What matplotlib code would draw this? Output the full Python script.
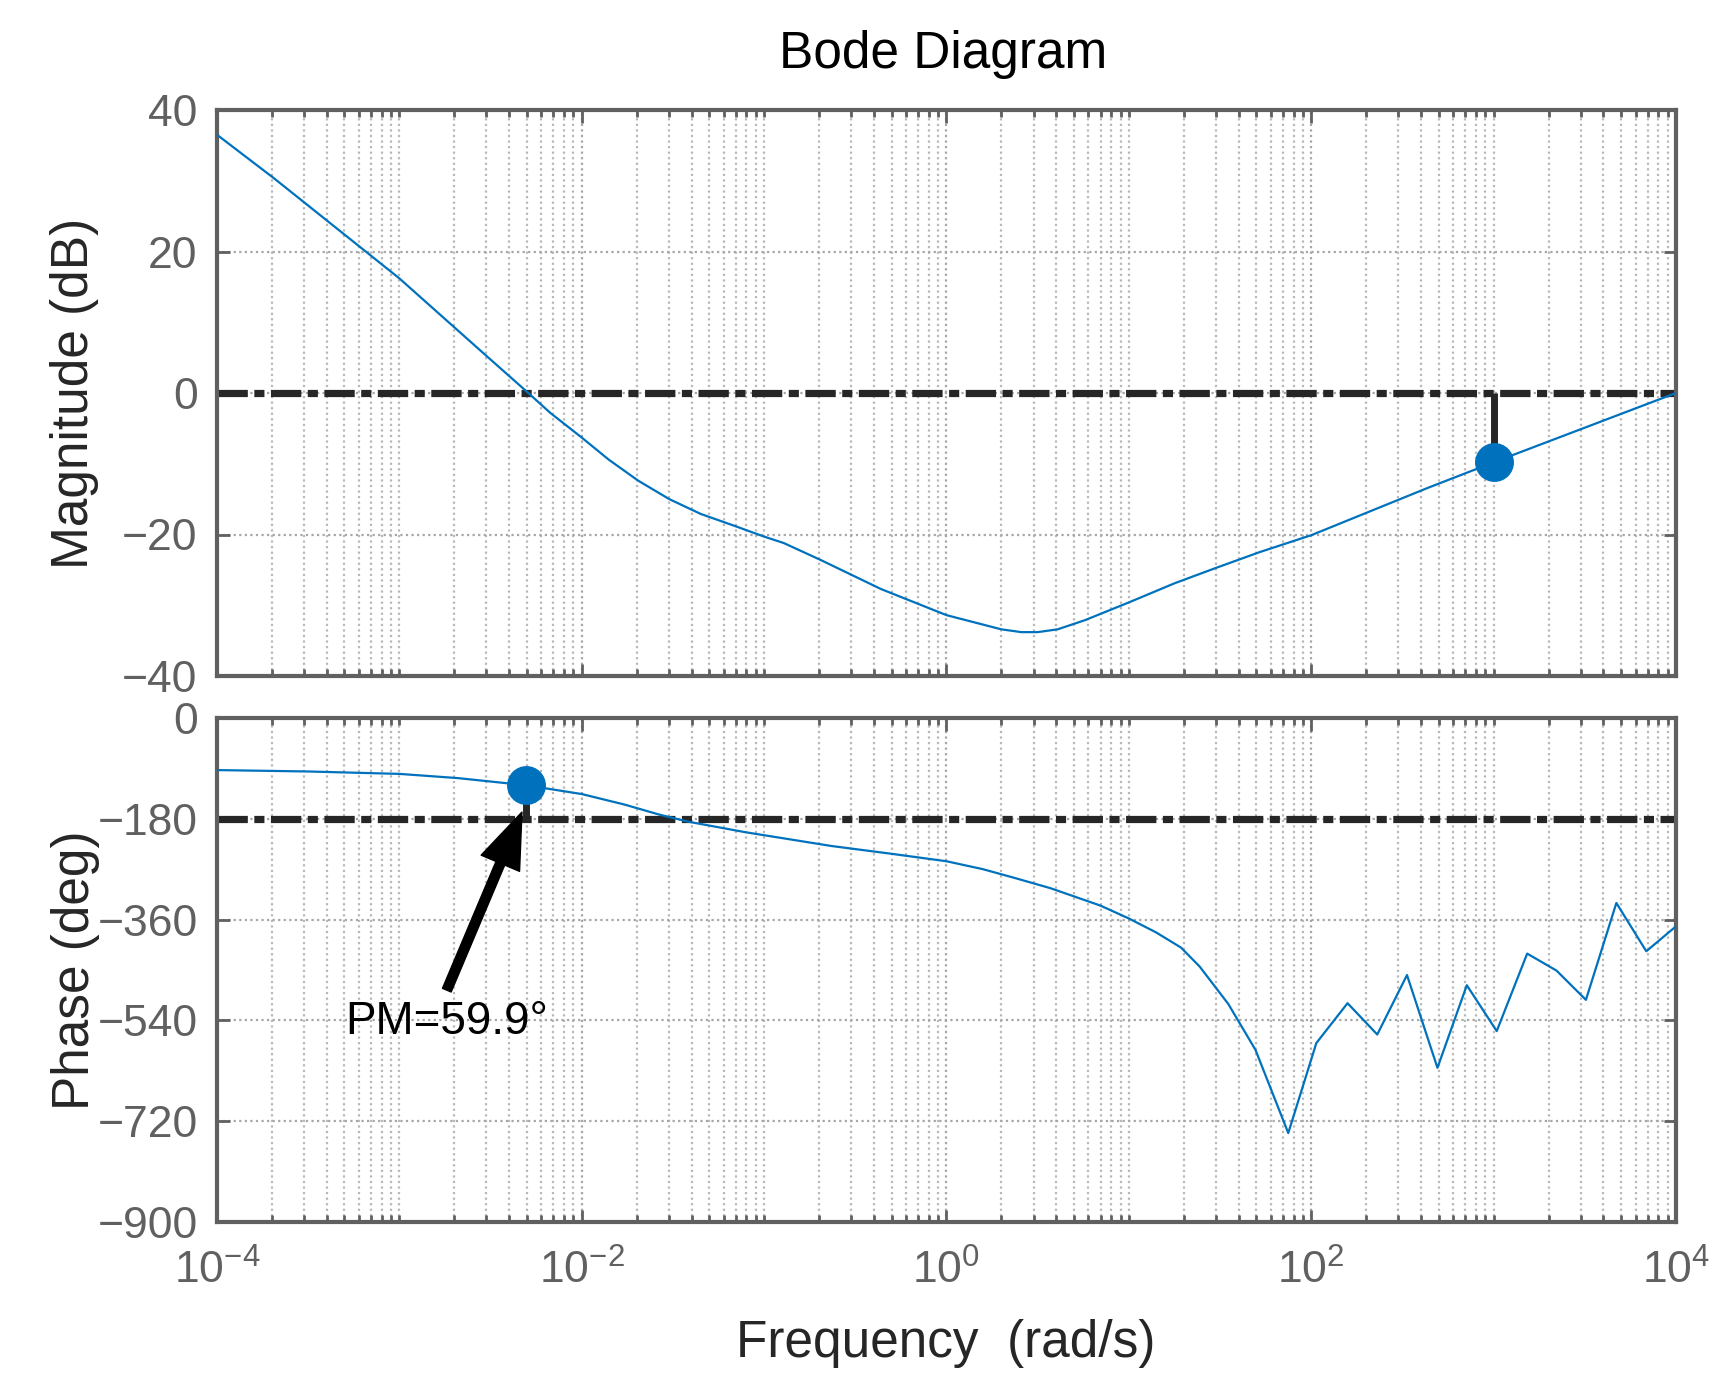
import numpy as np
import matplotlib
matplotlib.use("Agg")
import matplotlib.pyplot as plt
from matplotlib.ticker import FixedLocator, LogFormatterSciNotation, NullFormatter

plt.rcParams['font.family'] = ['Liberation Sans', 'DejaVu Sans']
plt.rcParams['mathtext.fontset'] = 'custom'
plt.rcParams['mathtext.rm'] = 'Liberation Sans'
plt.rcParams['mathtext.default'] = 'regular'

# magnitude curve (log10 of rad/s, dB)
mag_logw = [-4.0, -3.69, -3.0, -2.573, -2.293, -2.173, -2.0, -1.853, -1.69,
            -1.52, -1.347, -1.16, -1.0, -0.893, -0.69, -0.36, 0.0, 0.18,
            0.3, 0.41, 0.5, 0.61, 0.76, 1.0, 1.25, 1.48, 1.716, 2.0, 2.64, 3.0, 4.0]
mag_db = [36.5, 30.4, 16.2, 6.4, 0.0, -2.8, -6.3, -9.4, -12.4,
          -15.0, -17.1, -18.8, -20.3, -21.2, -23.6, -27.7, -31.4, -32.6,
          -33.4, -33.8, -33.8, -33.4, -32.1, -29.6, -26.9, -24.7, -22.5, -20.1, -13.4, -9.8, 0.0]

# phase curve (log10 of rad/s, deg)
ph_logw = [-4.0, -3.5, -3.0, -2.677, -2.305, -2.0, -1.764, -1.575, -1.417,
           -1.102, -0.63, -0.315, 0.0, 0.2, 0.378, 0.571, 0.844, 1.0, 1.15,
           1.286, 1.388, 1.545, 1.694, 1.874, 2.028, 2.199, 2.362, 2.525,
           2.692, 2.853, 3.017, 3.184, 3.345, 3.506, 3.673, 3.837, 4.0]
ph_deg = [-93.0, -95.5, -99.8, -107.4, -120.1, -135.8, -154.7, -172.5, -185.1,
          -204.0, -228.6, -241.9, -255.8, -270.0, -286.0, -304.0, -335.0, -358.0, -383.0,
          -410.0, -443.8, -510.6, -592.5, -741.2, -580.4, -509.3, -565.2, -459.0,
          -624.7, -477.2, -559.1, -420.7, -451.1, -503.3, -330.3, -416.5, -372.0]

# margins
pm_w, pm_phase, pm_text = 10 ** -2.305, -120.1, 'PM=59.9\u00b0'
gm_w, gm_db = 1e3, -9.8

mag_ticks = [-40, -20, 0, 20, 40]
ph_ticks = [-900, -720, -540, -360, -180, 0]
x_major = [1e-4, 1e-2, 1e0, 1e2, 1e4]

blue = '#0072BD'
dark = '#262626'
grey = '#606060'

fig = plt.figure(figsize=(17.31, 13.93), dpi=100)
W, H = 1731.0, 1393.0
ax_mag = fig.add_axes([217 / W, 1 - 676 / H, 1459 / W, 566 / H])
ax_ph = fig.add_axes([217 / W, 1 - 1222 / H, 1459 / W, 504 / H])

w_mag = 10 ** np.array(mag_logw)
w_ph = 10 ** np.array(ph_logw)

ref = dict(color=dark, lw=5.2, linestyle=(0, (4.2, 0.9, 1.4, 0.9)), zorder=2)

ax_mag.axhline(0, **ref)
ax_mag.plot(w_mag, mag_db, color=blue, lw=1.6, zorder=3)
ax_mag.plot([gm_w, gm_w], [0, gm_db], color=dark, lw=5, zorder=3,
            solid_capstyle='butt')
ax_mag.plot(gm_w, gm_db, 'o', color=blue, ms=27, zorder=4)

ax_ph.axhline(-180, **ref)
ax_ph.plot(w_ph, ph_deg, color=blue, lw=1.6, zorder=3)
ax_ph.plot([pm_w, pm_w], [-180, pm_phase], color=dark, lw=5, zorder=3,
           solid_capstyle='butt')
ax_ph.plot(pm_w, pm_phase, 'o', color=blue, ms=27, zorder=4)

ax_ph.annotate('', xy=(4.7e-3, -168), xytext=(1.82e-3, -486),
               arrowprops=dict(arrowstyle='simple,head_length=1.0,head_width=0.75,tail_width=0.17',
                               fc='k', ec='k', mutation_scale=40,
                               shrinkA=0, shrinkB=0), zorder=5)
ax_ph.text(1.82e-3, -503, pm_text, ha='center', va='top', fontsize=33,
           color='k', zorder=5)

minor_x = [k * 10.0 ** n for n in range(-4, 4) for k in range(1, 10)
           if not (k == 1 and n % 2 == 0)]

for ax, yt, yl in [(ax_mag, mag_ticks, (-40, 40)), (ax_ph, ph_ticks, (-900, 0))]:
    ax.set_xscale('log')
    ax.set_xlim(1e-4, 1e4)
    ax.set_ylim(*yl)
    ax.set_yticks(yt)
    ax.xaxis.set_major_locator(FixedLocator(x_major))
    ax.xaxis.set_minor_locator(FixedLocator(minor_x))
    ax.xaxis.set_minor_formatter(NullFormatter())
    ax.grid(True, which='major', linestyle=(0, (1, 1.5)), color='#a6a6a6', lw=1.6)
    ax.grid(True, which='minor', axis='x', linestyle=(0, (1, 1.5)), color='#b8b8b8', lw=1.6)
    ax.set_axisbelow(True)
    ax.tick_params(which='both', direction='in', top=True, right=True,
                   color=grey, width=2, labelcolor=grey, labelsize=32)
    ax.tick_params(which='major', length=9)
    ax.tick_params(which='minor', length=5)
    ax.tick_params(axis='y', pad=14)
    ax.tick_params(axis='x', pad=20)
    for s in ax.spines.values():
        s.set_color(grey)
        s.set_linewidth(3)

ax_mag.xaxis.set_major_formatter(NullFormatter())
ax_ph.xaxis.set_major_formatter(LogFormatterSciNotation())

fig.text(943 / W, 1 - 68 / H, 'Bode Diagram', ha='center', va='baseline',
         fontsize=37, color='k')
fig.text(946 / W, 1 - 1357 / H, 'Frequency  (rad/s)', ha='center', va='baseline',
         fontsize=37, color=dark)
fig.text(75 / W, 1 - 393 / H, 'Magnitude (dB)', rotation=90, ha='center',
         va='center', fontsize=37, color=dark)
fig.text(75 / W, 1 - 970 / H, 'Phase (deg)', rotation=90, ha='center',
         va='center', fontsize=37, color=dark)

fig.savefig('out.png', dpi=100, facecolor='white')
